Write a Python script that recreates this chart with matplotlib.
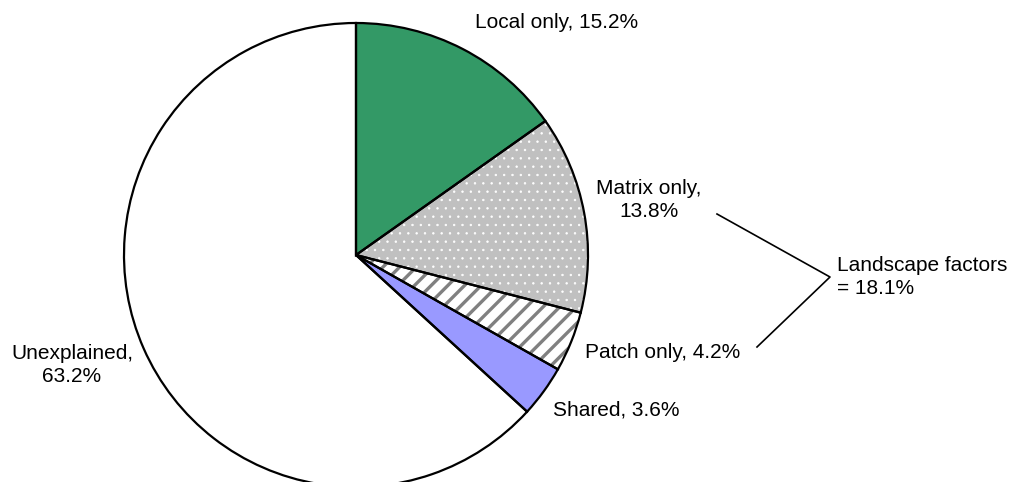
import matplotlib.pyplot as plt

plt.rcParams['font.family'] = ['Liberation Sans', 'DejaVu Sans']

# data
names = ['Local only', 'Matrix only', 'Patch only', 'Shared', 'Unexplained']
values = [15.2, 13.8, 4.2, 3.6, 63.2]
landscape_total = 18.1

fills = ['#339966', '#c0c0c0', '#ffffff', '#9999ff', '#ffffff']
hatches = [None, '..', '//', None, None]
hatch_colors = [None, '#ffffff', '#808080', None, None]

W, H = 1013, 482
fig = plt.figure(figsize=(W / 100, H / 100), dpi=100)
ax = fig.add_axes([0, 0, 1, 1])

cx, cy, r = 356, H - 255, 232

# fills + hatching
wedges, _ = ax.pie(values, colors=fills, startangle=90, counterclock=False,
                   center=(cx, cy), radius=r, frame=True,
                   wedgeprops=dict(linewidth=0))
for w, h, hc in zip(wedges, hatches, hatch_colors):
    if h:
        w.set_hatch(h)
        w.set_edgecolor(hc)
        if hasattr(w, 'set_hatch_linewidth'):
            w.set_hatch_linewidth(2.4 if h == '//' else 0.5)

# outlines
ax.pie(values, colors=['none'] * 5, startangle=90, counterclock=False,
       center=(cx, cy), radius=r, frame=True,
       wedgeprops=dict(fill=False, edgecolor='black', linewidth=1.6))
ax.set_xlim(0, W)
ax.set_ylim(0, H)
ax.set_aspect('equal')
ax.axis('off')

# labels
labels = [
    f'{names[0]}, {values[0]}%',
    f'{names[1]},\n{values[1]}%',
    f'{names[2]}, {values[2]}%',
    f'{names[3]}, {values[3]}%',
    f'{names[4]},\n{values[4]}%',
]
label_pos = [(557, 23), (649, 200), (663, 352), (616, 410), (72, 365)]
for txt, (x, y) in zip(labels, label_pos):
    ax.text(x, H - y, txt, fontsize=15, ha='center', va='center',
            linespacing=1.25)

# bracket for landscape factors
ax.plot([717, 830, 757], [H - 214, H - 277, H - 347], color='black', lw=1.2)
ax.text(837, H - 277, f'Landscape factors\n= {landscape_total}%', fontsize=15,
        ha='left', va='center', linespacing=1.25)

fig.savefig('out.png', dpi=100)
